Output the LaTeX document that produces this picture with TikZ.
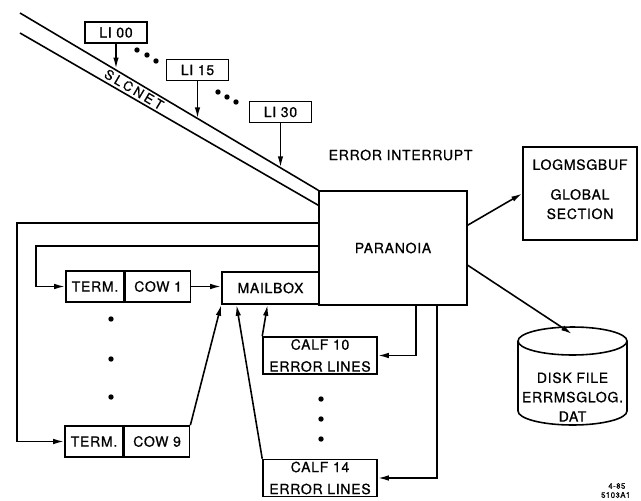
\documentclass[tikz,border=0pt]{standalone}
\usepackage{fontspec}
\setmainfont{TeX Gyre Heros}[FakeBold=0.7, LetterSpace=5]
\usetikzlibrary{arrows.meta, positioning, calc}

\begin{document}
\begin{tikzpicture}[
    x=0.02cm, y=-0.02cm,
    line width=0.9pt,
    every node/.style={font=\fontsize{8}{11}\selectfont},
    box/.style={draw, rectangle, inner sep=1pt, align=center},
    libox/.style={box, minimum width=1.24cm, minimum height=0.42cm},
    termbox/.style={box, minimum height=0.62cm},
    calfbox/.style={box, minimum width=2.28cm, minimum height=0.74cm},
    arr/.style={-{Latex[length=2.2mm,width=1.1mm]}}
  ]
  \useasboundingbox (0,0) rectangle (641,500);

  \node[box, minimum width=2.96cm, minimum height=2.28cm] (paranoia) at (393,248) {PARANOIA};
  \node[box, minimum width=1.94cm, minimum height=0.64cm] (mailbox) at (270.5,288) {MAILBOX};
  \node[termbox, minimum width=1.16cm] (term1) at (95,286.5) {TERM.};
  \node[termbox, minimum width=1.3cm, right=0pt of term1] (cow1) {COW 1};
  \node[termbox, minimum width=1.16cm] (term9) at (94,441.5) {TERM.};
  \node[termbox, minimum width=1.3cm, right=0pt of term9] (cow9) {COW 9};
  \node[calfbox] (calf10) at (320,355.5) {CALF 10\\[1.5pt]ERROR LINES};
  \node[calfbox] (calf14) at (320,478) {CALF 14\\[1.5pt]ERROR LINES};
  \node[box, minimum width=2.28cm, minimum height=1.86cm] (logbuf) at (580,193.5) {LOGMSGBUF\\[6pt]GLOBAL\\SECTION\\[-6pt]\mbox{}};
  \node[libox] (li00) at (116,32.5) {LI 00};
  \node[libox] (li15) at (197.5,70) {LI 15};
  \node[libox] (li30) at (280.5,112) {LI 30};

  % SLCNET
  \coordinate (net1) at (20,13);
  \coordinate (net2) at (20,33);
  \draw (net1) -- (paranoia.north west);
  \draw (net2) -- ($(paranoia.north west)+(0,15)$);
  \node[rotate=-30.6, font=\fontsize{7.5}{9}\selectfont\addfontfeature{LetterSpace=22}] (slcnet) at (134,89.5) {SLCNET};
  \coordinate (tap00) at ($(net1)!0.314!(paranoia.north west)$);
  \coordinate (tap15) at ($(net1)!0.594!(paranoia.north west)$);
  \coordinate (tap30) at ($(net1)!0.871!(paranoia.north west)$);
  \draw[arr] (li00.south) -- (li00.south |- tap00);
  \draw[arr] (li15.south) -- (li15.south |- tap15);
  \draw[arr] (li30.south) -- (li30.south |- tap30);
  \node[anchor=west] (errint) at (322,155) {ERROR INTERRUPT};

  % loops back to the terminals
  \coordinate (loopA) at (17,223);
  \coordinate (loopB) at (36,246);
  \draw[arr] (paranoia.west |- loopA) -- (loopA) |- (term9.west);
  \draw[arr] (paranoia.west |- loopB) -- (loopB) |- (term1.west);

  \draw[arr] (cow1.east) -- (mailbox.west |- cow1.east);
  \draw[arr] (cow9.north east) -- (mailbox.south west);
  \draw[arr] (calf14.north west) -- ($(mailbox.south west)!0.155!(mailbox.south east)$);
  \draw[arr] (calf10.north west) -- ($(mailbox.south west)!0.47!(mailbox.south east)$);

  \coordinate (dropA) at (416,0);
  \coordinate (dropB) at (437,0);
  \draw[arr] (paranoia.south -| dropA) |- (calf10.east);
  \draw[arr] (paranoia.south -| dropB) |- (calf14.east);

  % disk file
  \draw (518,341) -- (518,411) arc[start angle=180, end angle=0, x radius=54.5, y radius=14] -- (627,341);
  \draw (572.5,341) ellipse[x radius=54.5, y radius=14];
  \coordinate (disktop) at (572,334);
  \node[align=center] (disk) at (572.5,397) {DISK FILE\\ERRMSGLOG.\\DAT};

  \draw[arr] (paranoia.17) -- (logbuf.west);
  \draw[arr] (paranoia.-13) -- (disktop);

  \foreach \p in {(137,50),(147,55),(156,61),(218,92),(227,97),(236,102),
                  (111,319),(111,359),(111,397),(321,399),(321,419),(321,439)}
    \fill \p circle (2.7);

  \node[font=\fontsize{4.5}{5}\selectfont, anchor=east] (date) at (632,486) {4-85};
  \node[font=\fontsize{4.5}{5}\selectfont, anchor=east] (code) at (637,495) {5103A1};
\end{tikzpicture}
\end{document}
